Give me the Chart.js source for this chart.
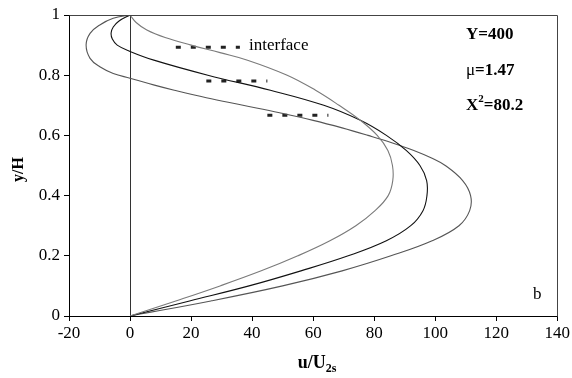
<!DOCTYPE html>
<html><head><meta charset="utf-8">
<script src="https://cdn.jsdelivr.net/npm/chart.js@4.4.1/dist/chart.umd.min.js"></script>
<style>html,body{margin:0;padding:0;background:#fff}#wrap{width:572px;height:378px}</style>
</head><body><div id="wrap"><canvas id="c" width="572" height="378"></canvas></div>
<script>
// ---- data ----
const xTicks = [-20, 0, 20, 40, 60, 80, 100, 120, 140];
const yTicks = [0, 0.2, 0.4, 0.6, 0.8, 1];

// curve A (grey, no reverse flow, max ~86)
const curveA_y = [1, 0.975, 0.95, 0.925, 0.9, 0.875, 0.85, 0.8, 0.75, 0.7, 0.65, 0.6, 0.55, 0.5, 0.45, 0.4, 0.35, 0.3, 0.25, 0.2, 0.15, 0.1, 0.05, 0];
const curveA_u = [0, 2, 5.5, 11.5, 20, 29.5, 38.5, 51.5, 60.8, 68.5, 75.5, 81, 84.5, 86, 86.1, 84.6, 80.3, 74, 65.5, 55, 43, 29.5, 15, 0];

// curve B (black, small reverse loop, max ~97)
const curveB_y = [1, 0.98, 0.96, 0.94, 0.92, 0.9, 0.879, 0.85, 0.8, 0.75, 0.7, 0.65, 0.6, 0.55, 0.5, 0.45, 0.4, 0.35, 0.3, 0.25, 0.2, 0.15, 0.1, 0.05, 0];
const curveB_u = [0, -3.6, -5.5, -6.2, -5.8, -4.2, 0, 7.8, 25.5, 46, 63.5, 75.5, 84, 90.5, 95, 97.2, 97.3, 96, 92, 84, 71.5, 56, 39, 19.5, 0];

// curve C (dark grey, large reverse loop, max ~112)
const curveC_y = [1, 0.989, 0.967, 0.939, 0.9, 0.856, 0.828, 0.806, 0.79, 0.767, 0.75, 0.725, 0.7, 0.675, 0.65, 0.625, 0.6, 0.575, 0.55, 0.525, 0.5, 0.45, 0.4, 0.35, 0.3, 0.25, 0.2, 0.15, 0.1, 0.05, 0];
const curveC_u = [0, -5.5, -9.9, -13.1, -14.4, -13.1, -9.9, -5.5, 0, 8, 14.5, 25, 37, 49, 60, 69.5, 78, 86, 93, 98.8, 103.3, 109, 111.6, 111.3, 107.8, 99, 85.5, 69.5, 50, 26.5, 0];

// interface markers (dashed segments)
const ifaceY = [0.893, 0.781, 0.667];
const ifaceFrom = [15, 25, 45];
const ifaceTo = [36, 45, 65];

// annotation texts
const paramLines = [
  [{t: 'Y=400', b: true}],
  [{t: 'μ', b: false}, {t: '=1.47', b: true}],
  [{t: 'X', b: true}, {t: '2', b: true, sup: true}, {t: '=80.2', b: true}]
];
const interfaceLabel = 'interface';
const panelLabel = 'b';
const xTitleMain = 'u/U';
const xTitleSub = '2s';
const yTitle = 'y/H';

// ---- build ----
const pts = (u, y) => u.map((v, i) => ({x: v, y: y[i]}));
const SERIF = '"Liberation Serif", "Times New Roman", serif';

const curveStyle = (color) => ({
  showLine: true, pointRadius: 0, borderWidth: 1.1, borderColor: color,
  tension: 0.4, fill: false
});

const datasets = [
  Object.assign({label: 'A', data: pts(curveA_u, curveA_y)}, curveStyle('#7a7a7a')),
  Object.assign({label: 'B', data: pts(curveB_u, curveB_y)}, curveStyle('#111')),
  Object.assign({label: 'C', data: pts(curveC_u, curveC_y)}, curveStyle('#555')),
];
ifaceY.forEach((yv, i) => {
  datasets.push({
    label: 'iface' + i,
    data: [{x: ifaceFrom[i], y: yv}, {x: ifaceTo[i], y: yv}],
    showLine: true, pointRadius: 0, borderWidth: 3, borderColor: '#222',
    borderDash: [5, 10], borderCapStyle: 'butt', tension: 0
  });
});

const decor = {
  id: 'decor',
  afterDraw(chart) {
    const ctx = chart.ctx, a = chart.chartArea;
    ctx.save();
    // frame top & right
    ctx.strokeStyle = '#444'; ctx.lineWidth = 1;
    ctx.beginPath();
    ctx.moveTo(Math.round(a.left) + 0.5, Math.round(a.top) + 0.5);
    ctx.lineTo(Math.round(a.right) + 0.5, Math.round(a.top) + 0.5);
    ctx.lineTo(Math.round(a.right) + 0.5, Math.round(a.bottom) + 0.5);
    ctx.stroke();

    ctx.fillStyle = '#000';
    ctx.textBaseline = 'alphabetic';
    ctx.textAlign = 'left';
    // parameter block
    const baselines = [39, 75, 110];
    paramLines.forEach((line, li) => {
      let x = 466;
      line.forEach(p => {
        const size = p.sup ? 11 : 17;
        ctx.font = (p.b ? 'bold ' : '') + size + 'px ' + SERIF;
        const yb = baselines[li] - (p.sup ? 8 : 0);
        ctx.fillText(p.t, x, yb);
        x += ctx.measureText(p.t).width;
      });
    });
    // interface label
    ctx.font = '17px ' + SERIF;
    ctx.fillText(interfaceLabel, 249, 50);
    // panel label
    ctx.fillText(panelLabel, 533, 299);
    // x title
    ctx.font = 'bold 18px ' + SERIF;
    const w1 = ctx.measureText(xTitleMain).width;
    ctx.font = 'bold 12px ' + SERIF;
    const w2 = ctx.measureText(xTitleSub).width;
    let xs = (a.left + a.right) / 2 - (w1 + w2) / 2 + 4;
    ctx.font = 'bold 18px ' + SERIF;
    ctx.fillText(xTitleMain, xs, 368);
    ctx.font = 'bold 12px ' + SERIF;
    ctx.fillText(xTitleSub, xs + w1, 372);
    // y title
    ctx.translate(23, (a.top + a.bottom) / 2 + 4);
    ctx.rotate(-Math.PI / 2);
    ctx.font = 'bold 16px ' + SERIF;
    ctx.textAlign = 'center';
    ctx.fillText(yTitle, 0, 0);
    ctx.restore();
  }
};

new Chart(document.getElementById('c'), {
  type: 'scatter',
  data: {datasets},
  options: {
    responsive: false, animation: false, devicePixelRatio: 1,
    layout: {padding: {left: 0, right: 13, top: 15, bottom: 0}},
    plugins: {legend: {display: false}, tooltip: {enabled: false}},
    scales: {
      x: {
        type: 'linear', min: xTicks[0], max: xTicks[xTicks.length - 1],
        afterBuildTicks: s => { s.ticks = xTicks.map(v => ({value: v})); },
        afterFit: s => { s.height = 62; },
        ticks: {color: '#000', font: {family: SERIF, size: 17}, padding: 2,
          maxRotation: 0, autoSkip: false, callback: v => String(v)},
        grid: {
          color: c => (c.tick && c.tick.value === 0) ? '#333' : 'rgba(0,0,0,0)',
          tickColor: '#000', tickLength: 5, lineWidth: 1
        },
        border: {display: true, color: '#000', width: 1}
      },
      y: {
        type: 'linear', min: yTicks[0], max: yTicks[yTicks.length - 1],
        afterBuildTicks: s => { s.ticks = yTicks.map(v => ({value: v})); },
        afterFit: s => { s.width = 69; },
        ticks: {color: '#000', font: {family: SERIF, size: 17}, padding: 4,
          autoSkip: false, callback: v => String(Number(v.toFixed(1)))},
        grid: {drawOnChartArea: false, tickColor: '#000', tickLength: 5},
        border: {display: true, color: '#000', width: 1}
      }
    }
  },
  plugins: [decor]
});
</script>
</body></html>
